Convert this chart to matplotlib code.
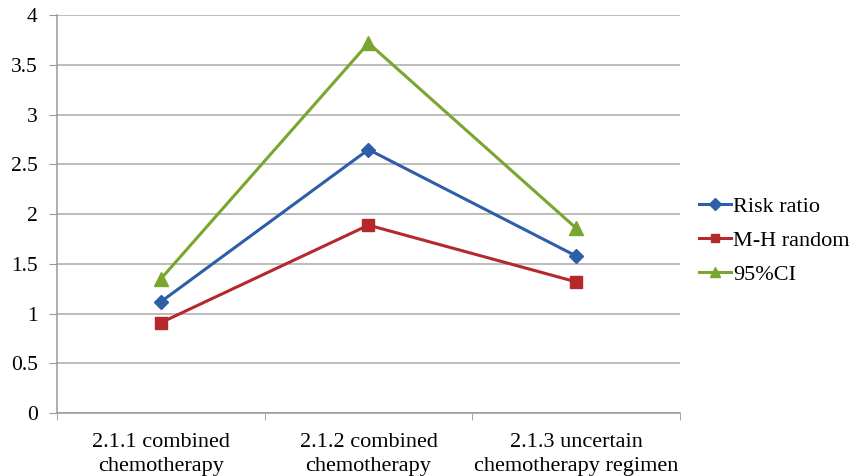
import matplotlib
matplotlib.use("Agg")
import matplotlib.pyplot as plt

categories = ["2.1.1 combined\nchemotherapy",
              "2.1.2 combined\nchemotherapy",
              "2.1.3 uncertain\nchemotherapy regimen"]
risk_ratio = [1.12, 2.65, 1.58]
mh_random = [0.91, 1.89, 1.32]
ci95 = [1.35, 3.72, 1.86]

plt.rcParams['font.family'] = ['Liberation Serif', 'DejaVu Serif']

fig = plt.figure(figsize=(8.52, 4.76), dpi=100)
ax = fig.add_axes([0.067, 0.132, 0.731, 0.836])

x = list(range(len(categories)))
ax.plot(x, risk_ratio, color='#2E5EA8', lw=2.2, marker='D', ms=7.5, label='Risk ratio')
ax.plot(x, mh_random, color='#B5282B', lw=2.2, marker='s', ms=8, label='M-H random')
ax.plot(x, ci95, color='#7AA52E', lw=2.2, marker='^', ms=10, label='95%CI')

ax.set_ylim(0, 4)
ax.set_xlim(-0.5, 2.5)
ax.set_yticks([0, 0.5, 1, 1.5, 2, 2.5, 3, 3.5, 4])
ax.set_yticklabels(['0', '0.5', '1', '1.5', '2', '2.5', '3', '3.5', '4'])
ax.set_xticks(x)
ax.set_xticklabels(categories, linespacing=1.4)
ax.set_xticks([-0.5, 0.5, 1.5, 2.5], minor=True)
ax.tick_params(axis='x', which='major', length=0, pad=14, labelsize=16)
ax.tick_params(axis='x', which='minor', length=5, color='#999999', direction='out')
ax.tick_params(axis='y', length=6, color='#999999', labelsize=15.5, pad=8)

ax.grid(axis='y', color='#AAAAAA', lw=1.1)
ax.set_axisbelow(True)
for side in ['top', 'right']:
    ax.spines[side].set_visible(False)
for side in ['left', 'bottom']:
    ax.spines[side].set_color('#999999')
    ax.spines[side].set_linewidth(1.1)

fig.legend(loc='center left', bbox_to_anchor=(0.821, 0.494), frameon=False,
           fontsize=16, handlelength=1.4, handletextpad=0.1, labelspacing=0.6,
           borderpad=0, borderaxespad=0, markerscale=0.75)

fig.savefig('out.png', dpi=100)
